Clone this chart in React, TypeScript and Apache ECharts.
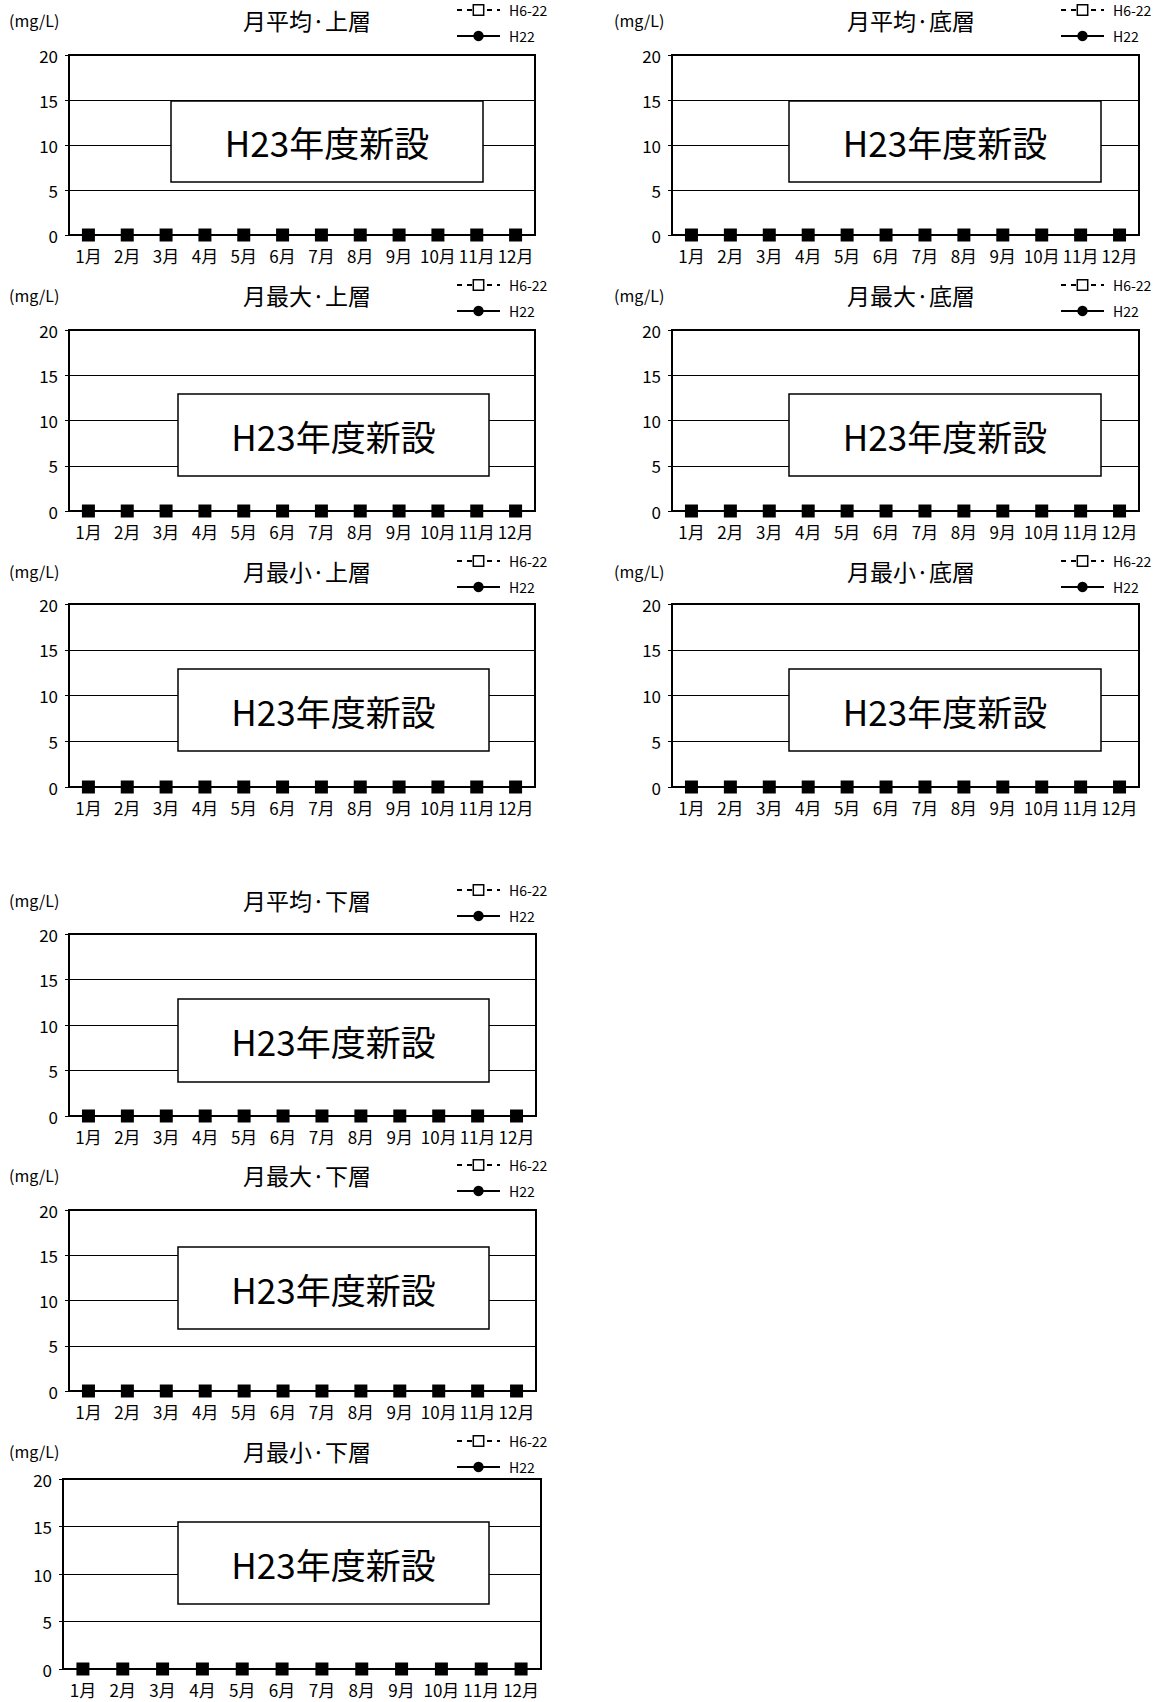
import React, { useEffect, useRef } from 'react';
import * as echarts from 'echarts';

// ---- data ----
const months = ['1月', '2月', '3月', '4月', '5月', '6月', '7月', '8月', '9月', '10月', '11月', '12月'];
const yMin = 0;
const yMax = 20;
const yStep = 5;
const seriesH6_22 = [0, 0, 0, 0, 0, 0, 0, 0, 0, 0, 0, 0];
const seriesH22 = [0, 0, 0, 0, 0, 0, 0, 0, 0, 0, 0, 0];
const legendNames = ['H6-22', 'H22'];
const panelTitles = [
  '月平均·上層', '月最大·上層', '月最小·上層',
  '月平均·底層', '月最大·底層', '月最小·底層',
  '月平均·下層', '月最大·下層', '月最小·下層',
];
const unitLabel = '(mg/L)';
const noteText = 'H23年度新設';

// ---- layout (pixels) ----
type Lay = { plot: number[]; box: number[]; titleX: number; titleY: number; unitX: number; legX: number };
const layouts: Lay[] = [
  { plot: [69, 55, 535, 235], box: [171, 101, 483, 182], titleX: 307, titleY: 20, unitX: 9, legX: 456 },
  { plot: [69, 330, 535, 511], box: [178, 394, 489, 476], titleX: 307, titleY: 295, unitX: 9, legX: 456 },
  { plot: [69, 604, 535, 787], box: [178, 669, 489, 751], titleX: 307, titleY: 571, unitX: 9, legX: 456 },
  { plot: [672, 55, 1139, 235], box: [789, 101, 1101, 182], titleX: 911, titleY: 20, unitX: 614, legX: 1060 },
  { plot: [672, 330, 1139, 511], box: [789, 394, 1101, 476], titleX: 911, titleY: 295, unitX: 614, legX: 1060 },
  { plot: [672, 604, 1139, 787], box: [789, 669, 1101, 751], titleX: 911, titleY: 571, unitX: 614, legX: 1060 },
  { plot: [69, 934, 536, 1116], box: [178, 999, 489, 1082], titleX: 307, titleY: 900, unitX: 9, legX: 456 },
  { plot: [69, 1210, 536, 1391], box: [178, 1247, 489, 1329], titleX: 307, titleY: 1175, unitX: 9, legX: 456 },
  { plot: [63, 1479, 541, 1669], box: [178, 1522, 489, 1604], titleX: 307, titleY: 1451, unitX: 9, legX: 456 },
];

const FONT = "'Noto Sans CJK JP', 'Noto Sans', sans-serif";

function buildOption() {
  const grid: any[] = [];
  const xAxis: any[] = [];
  const yAxis: any[] = [];
  const series: any[] = [];
  const legend: any[] = [];
  const graphic: any[] = [];

  layouts.forEach((L, i) => {
    const [l, t, r, b] = L.plot;
    grid.push({
      left: l, top: t, width: r - l, height: b - t,
      show: true, borderColor: '#000', borderWidth: 2, backgroundColor: 'transparent',
    });
    xAxis.push({
      type: 'category', gridIndex: i, data: months, boundaryGap: true,
      axisLine: { show: true, lineStyle: { color: '#000', width: 2 } },
      axisTick: { show: false },
      axisLabel: { interval: 0, color: '#000', fontSize: 17, fontFamily: FONT, margin: 12 },
      splitLine: { show: false },
    });
    yAxis.push({
      type: 'value', gridIndex: i, min: yMin, max: yMax, interval: yStep,
      axisLine: { show: true, lineStyle: { color: '#000', width: 2 } },
      axisTick: { show: true, length: 4, lineStyle: { color: '#000', width: 1 } },
      axisLabel: { color: '#000', fontSize: 17, fontFamily: FONT, margin: 11 },
      splitLine: { show: true, lineStyle: { color: '#000', width: 1 } },
    });
    series.push({
      name: legendNames[1], type: 'line', xAxisIndex: i, yAxisIndex: i, data: seriesH22,
      symbol: 'circle', symbolSize: 10, z: 3,
      lineStyle: { color: '#000', width: 2, type: 'solid' },
      itemStyle: { color: '#000' },
    });
    series.push({
      name: legendNames[0], type: 'line', xAxisIndex: i, yAxisIndex: i, data: seriesH6_22,
      symbol: 'rect', symbolSize: 13, z: 4,
      lineStyle: { color: '#000', width: 2, type: [5, 5] },
      itemStyle: { color: '#000' },
    });
    legend.push({
      orient: 'vertical', left: L.legX, top: L.titleY - 17, padding: 0,
      itemWidth: 43, itemHeight: 13, itemGap: 12,
      selectedMode: false,
      lineStyle: { width: 2 },
      textStyle: { color: '#000', fontSize: 14, fontFamily: FONT, padding: [0, 0, 0, 4] },
      data: [
        { name: legendNames[0], itemStyle: { color: '#fff', borderColor: '#000', borderWidth: 1.5 }, lineStyle: { width: 2, type: [5, 5] } },
        { name: legendNames[1], lineStyle: { width: 2 } },
      ],
    });
    graphic.push({
      type: 'text', x: L.titleX, y: L.titleY, z: 20,
      style: { text: panelTitles[i], fill: '#000', font: `23px ${FONT}`, align: 'center', verticalAlign: 'middle', textAlign: 'center', textVerticalAlign: 'middle' },
    });
    graphic.push({
      type: 'text', x: L.unitX, y: L.titleY, z: 20,
      style: { text: unitLabel, fill: '#000', font: `16px ${FONT}`, align: 'left', verticalAlign: 'middle', textAlign: 'left', textVerticalAlign: 'middle' },
    });
    const [bx1, by1, bx2, by2] = L.box;
    graphic.push({
      type: 'rect', z: 20,
      shape: { x: bx1, y: by1, width: bx2 - bx1, height: by2 - by1 },
      style: { fill: '#fff', stroke: '#000', lineWidth: 1.5 },
    });
    graphic.push({
      type: 'text', x: (bx1 + bx2) / 2, y: (by1 + by2) / 2, z: 21,
      style: { text: noteText, fill: '#000', font: `35px ${FONT}`, align: 'center', verticalAlign: 'middle', textAlign: 'center', textVerticalAlign: 'middle' },
    });
  });

  return {
    animation: false,
    backgroundColor: '#fff',
    textStyle: { fontFamily: FONT },
    grid, xAxis, yAxis, series, legend, graphic,
  };
}

export default function App() {
  const ref = useRef<HTMLDivElement>(null);
  useEffect(() => {
    if (!ref.current) return;
    const chart = echarts.init(ref.current, undefined, { renderer: 'svg' });
    chart.setOption(buildOption() as any);
    return () => chart.dispose();
  }, []);
  return (
    <div
      ref={ref}
      style={{ position: 'absolute', left: 0, top: 0, width: 1162, height: 1702, background: '#fff' }}
    />
  );
}
